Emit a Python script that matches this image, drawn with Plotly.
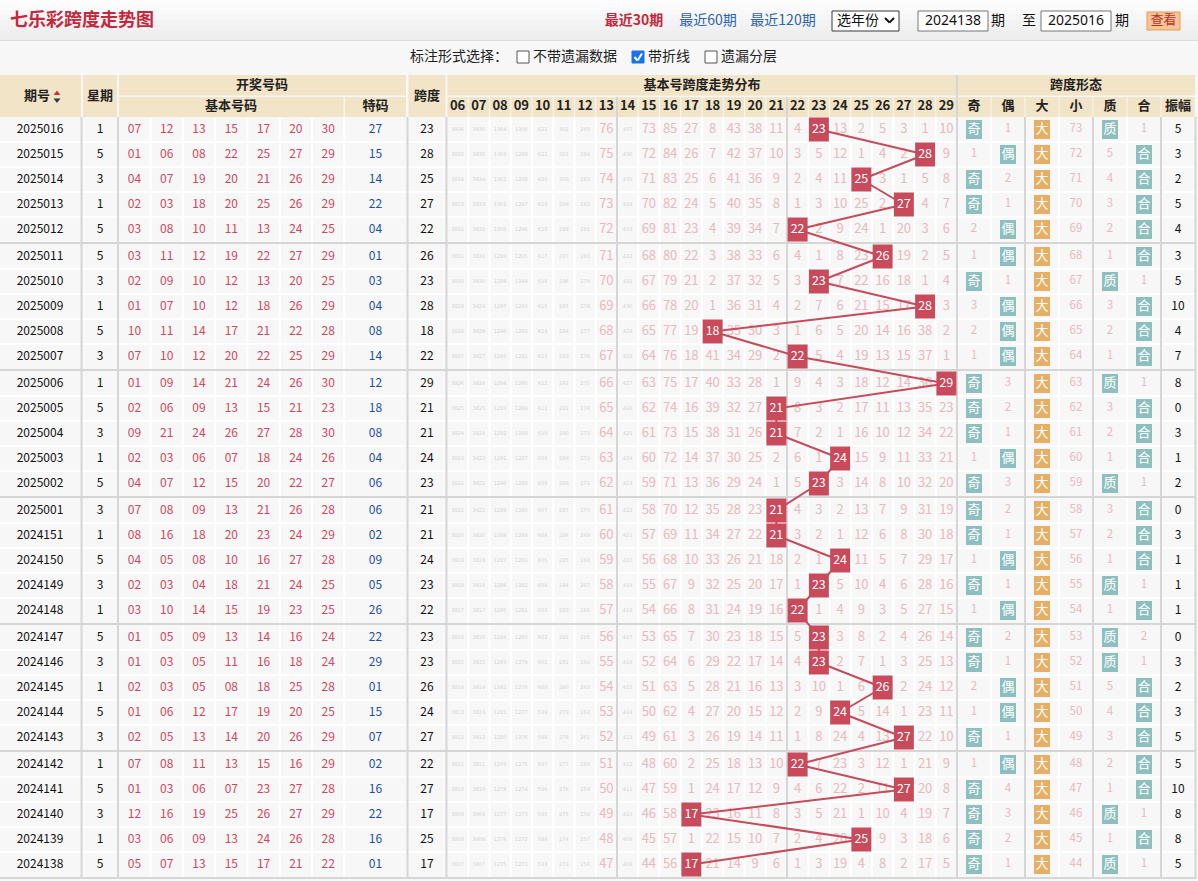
import plotly.graph_objects as go

# ---------------- data ----------------
periods = ["2025016", "2025015", "2025014", "2025013", "2025012",
           "2025011", "2025010", "2025009", "2025008", "2025007",
           "2025006", "2025005", "2025004", "2025003", "2025002",
           "2025001", "2024151", "2024150", "2024149", "2024148",
           "2024147", "2024146", "2024145", "2024144", "2024143",
           "2024142", "2024141", "2024140", "2024139", "2024138"]
weekdays = [1, 5, 3, 1, 5, 5, 3, 1, 5, 3, 1, 5, 3, 1, 5,
            3, 1, 5, 3, 1, 5, 3, 1, 5, 3, 1, 5, 3, 1, 5]
basic_numbers = [
    "07 12 13 15 17 20 30", "01 06 08 22 25 27 29", "04 07 19 20 21 26 29",
    "02 03 18 20 25 26 29", "03 08 10 11 13 24 25", "03 11 12 19 22 27 29",
    "02 09 10 12 13 20 25", "01 07 10 12 18 26 29", "10 11 14 17 21 22 28",
    "07 10 12 20 22 25 29", "01 09 14 21 24 26 30", "02 06 09 13 15 21 23",
    "09 21 24 26 27 28 30", "02 03 06 07 18 24 26", "04 07 12 15 20 22 27",
    "07 08 09 13 21 26 28", "08 16 18 20 23 24 29", "04 05 08 10 16 27 28",
    "02 03 04 18 21 24 25", "03 10 14 15 19 23 25", "01 05 09 13 14 16 24",
    "01 03 05 11 16 18 24", "02 03 05 08 18 25 28", "01 06 12 17 19 20 25",
    "02 05 13 14 20 26 29", "07 08 11 13 15 16 29", "01 03 06 07 23 27 28",
    "12 16 19 25 26 27 29", "03 06 09 13 24 26 28", "05 07 13 15 17 21 22"]
special_numbers = ["27", "15", "14", "22", "04", "01", "03", "04", "08", "14",
                   "12", "18", "08", "04", "06", "06", "02", "09", "05", "26",
                   "22", "29", "01", "15", "07", "02", "16", "22", "16", "01"]
spans = [23, 28, 25, 27, 22, 26, 23, 28, 18, 22, 29, 21, 21, 24, 23,
         21, 21, 24, 23, 22, 23, 23, 26, 24, 27, 22, 27, 17, 25, 17]
span_columns = ["06", "07", "08", "09", "10", "11", "12", "13", "14", "15", "16", "17",
                "18", "19", "20", "21", "22", "23", "24", "25", "26", "27", "28", "29"]
# omission value per span column 06..29 ("-" = drawn span of that period)
omissions = [
    "3836 3836 1304 1300 622 302 285 76 437 73 85 27 8 43 38 11 4 - 13 2 5 3 1 10",
    "3835 3835 1303 1299 621 301 284 75 436 72 84 26 7 42 37 10 3 5 12 1 4 2 - 9",
    "3834 3834 1302 1298 620 300 283 74 435 71 83 25 6 41 36 9 2 4 11 - 3 1 5 8",
    "3833 3833 1301 1297 619 299 282 73 434 70 82 24 5 40 35 8 1 3 10 25 2 - 4 7",
    "3832 3832 1300 1296 618 298 281 72 433 69 81 23 4 39 34 7 - 2 9 24 1 20 3 6",
    "3831 3831 1299 1295 617 297 280 71 432 68 80 22 3 38 33 6 4 1 8 23 - 19 2 5",
    "3830 3830 1298 1294 616 296 279 70 431 67 79 21 2 37 32 5 3 - 7 22 16 18 1 4",
    "3829 3829 1297 1293 615 295 278 69 430 66 78 20 1 36 31 4 2 7 6 21 15 17 - 3",
    "3828 3828 1296 1292 614 294 277 68 429 65 77 19 - 35 30 3 1 6 5 20 14 16 38 2",
    "3827 3827 1295 1291 613 293 276 67 428 64 76 18 41 34 29 2 - 5 4 19 13 15 37 1",
    "3826 3826 1294 1290 612 292 275 66 427 63 75 17 40 33 28 1 9 4 3 18 12 14 36 -",
    "3825 3825 1293 1289 611 291 274 65 426 62 74 16 39 32 27 - 8 3 2 17 11 13 35 23",
    "3824 3824 1292 1288 610 290 273 64 425 61 73 15 38 31 26 - 7 2 1 16 10 12 34 22",
    "3823 3823 1291 1287 609 289 272 63 424 60 72 14 37 30 25 2 6 1 - 15 9 11 33 21",
    "3822 3822 1290 1286 608 288 271 62 423 59 71 13 36 29 24 1 5 - 3 14 8 10 32 20",
    "3821 3821 1289 1285 607 287 270 61 422 58 70 12 35 28 23 - 4 3 2 13 7 9 31 19",
    "3820 3820 1288 1284 606 286 269 60 421 57 69 11 34 27 22 - 3 2 1 12 6 8 30 18",
    "3819 3819 1287 1283 605 285 268 59 420 56 68 10 33 26 21 18 2 1 - 11 5 7 29 17",
    "3818 3818 1286 1282 604 284 267 58 419 55 67 9 32 25 20 17 1 - 5 10 4 6 28 16",
    "3817 3817 1285 1281 603 283 266 57 418 54 66 8 31 24 19 16 - 1 4 9 3 5 27 15",
    "3816 3816 1284 1280 602 282 265 56 417 53 65 7 30 23 18 15 5 - 3 8 2 4 26 14",
    "3815 3815 1283 1279 601 281 264 55 416 52 64 6 29 22 17 14 4 - 2 7 1 3 25 13",
    "3814 3814 1282 1278 600 280 263 54 415 51 63 5 28 21 16 13 3 10 1 6 - 2 24 12",
    "3813 3813 1281 1277 599 279 262 53 414 50 62 4 27 20 15 12 2 9 - 5 14 1 23 11",
    "3812 3812 1280 1276 598 278 261 52 413 49 61 3 26 19 14 11 1 8 24 4 13 - 22 10",
    "3811 3811 1279 1275 597 277 260 51 412 48 60 2 25 18 13 10 - 7 23 3 12 1 21 9",
    "3810 3810 1278 1274 596 276 259 50 411 47 59 1 24 17 12 9 4 6 22 2 11 - 20 8",
    "3809 3809 1277 1273 595 275 258 49 410 46 58 - 23 16 11 8 3 5 21 1 10 4 19 7",
    "3808 3808 1276 1272 594 274 257 48 409 45 57 1 22 15 10 7 2 4 20 - 9 3 18 6",
    "3807 3807 1275 1271 593 273 256 47 408 44 56 - 21 14 9 6 1 3 19 4 8 2 17 5"]
form_headers = ["奇", "偶", "大", "小", "质", "合", "振幅"]
odd_col = ["奇", "1", "奇", "奇", "2", "1", "奇", "3", "2", "1", "奇", "奇", "奇", "1", "奇",
           "奇", "奇", "1", "奇", "1", "奇", "奇", "2", "1", "奇", "1", "奇", "奇", "奇", "奇"]
even_col = ["1", "偶", "2", "1", "偶", "偶", "1", "偶", "偶", "偶", "3", "2", "1", "偶", "3",
            "2", "1", "偶", "1", "偶", "2", "1", "偶", "偶", "1", "偶", "4", "3", "2", "1"]
big_col = ["大"] * 30
small_col = ["73", "72", "71", "70", "69", "68", "67", "66", "65", "64", "63", "62", "61", "60", "59",
             "58", "57", "56", "55", "54", "53", "52", "51", "50", "49", "48", "47", "46", "45", "44"]
prime_col = ["质", "5", "4", "3", "2", "1", "质", "3", "2", "1", "质", "3", "2", "1", "质",
             "3", "2", "1", "质", "1", "质", "质", "5", "4", "3", "2", "1", "质", "1", "质"]
comp_col = ["1", "合", "合", "合", "合", "合", "1", "合", "合", "合", "1", "合", "合", "合", "1",
            "合", "合", "合", "1", "合", "2", "1", "合", "合", "合", "合", "合", "1", "合", "1"]
amplitude = [5, 3, 2, 5, 4, 3, 5, 10, 4, 7, 8, 0, 3, 1, 2, 0, 3, 1, 1, 1, 0, 3, 2, 3, 5, 5, 10, 8, 8, 5]

# ---------------- layout helpers ----------------
W, H = 1198, 881
CN = "Noto Sans CJK SC"
NUM = "Noto Sans CJK SC"
BEIGE = "#f2e4c6"
GRAY = "#d6d6d6"
RED = "#c84a5b"
PINK = "#e8b9bd"
TEAL = "#8ebfbf"
ORANGE = "#e5b065"
TS = 12  # table number size

BODY_TOP, ROW_H, GROUP_STEP = 117, 25, 127
TREND_L, TREND_R = 447, 957


def row_top(i):
    return BODY_TOP + (i // 5) * GROUP_STEP + (i % 5) * ROW_H


def row_mid(i):
    return row_top(i) + ROW_H / 2


n = len(periods)
ys = [row_mid(i) for i in range(n)]
base_w = (344.3 - 118.3) / 7
base_x = [118.3 + base_w * (k + 0.5) for k in range(7)]
form_edges = [957, 991, 1025, 1059, 1093, 1127, 1161, 1195]
form_x = [(form_edges[k] + form_edges[k + 1]) / 2 for k in range(7)]
col_vals = [int(c) for c in span_columns]

traces = []
shapes = []


def text(xs, ys_, txt, color, size, family=NUM, axis="x", pos="middle center"):
    traces.append(go.Scatter(x=xs, y=ys_, text=txt, mode="text", textposition=pos,
                             textfont=dict(color=color, size=size, family=family),
                             xaxis=axis, yaxis="y", hoverinfo="skip", showlegend=False,
                             cliponaxis=False))


def segments(segs, color, width):
    xs, yy = [], []
    for x0, y0, x1, y1 in segs:
        xs += [x0, x1, None]
        yy += [y0, y1, None]
    traces.append(go.Scatter(x=xs, y=yy, mode="lines", line=dict(color=color, width=width),
                             hoverinfo="skip", showlegend=False, cliponaxis=False))


def rect(x0, y0, x1, y1, fill, line=None, lw=1):
    shapes.append(dict(type="rect", xref="x", yref="y", x0=x0, y0=y0, x1=x1, y1=y1,
                       fillcolor=fill, line=dict(color=line or fill, width=lw if line else 0),
                       layer="below"))


def boxes(cx, cy, hw, hh, color, axis="x"):
    xs, yy = [], []
    for x, y in zip(cx, cy):
        xs += [x - hw, x + hw, x + hw, x - hw, x - hw, None]
        yy += [y - hh, y - hh, y + hh, y + hh, y - hh, None]
    traces.append(go.Scatter(x=xs, y=yy, mode="lines", fill="toself", fillcolor=color,
                             line=dict(width=0, color=color), xaxis=axis, yaxis="y",
                             hoverinfo="skip", showlegend=False, cliponaxis=False))


# ---------------- top bar ----------------
bands = ["#fdfdfd", "#fbfbfb", "#f8f8f8", "#f6f6f6", "#f3f3f3", "#f1f1f1", "#efefef", "#ededed"]
for k, c in enumerate(bands):
    rect(0, k * 5, W, k * 5 + 5, c)
segments([(0, 40.5, W, 40.5)], "#dcdcdc", 1)
text([10], [21], ["<b>七乐彩跨度走势图</b>"], "#c5283c", 18, CN, pos="middle right")
text([634], [21], ["<b>最近30期</b>"], "#c5283c", 14, CN)
text([708], [21], ["最近60期"], "#2d62b5", 14, CN)
text([783], [21], ["最近120期"], "#2d62b5", 14, CN)
rect(832, 11, 899, 31, "#ffffff", "#3a3a3a", 1)
text([858], [21], ["选年份"], "#111111", 14, CN)
segments([(885, 18, 889.5, 22.5), (889.5, 22.5, 894, 18)], "#111111", 2)
rect(918, 11, 988, 31, "#ffffff", "#767676", 1)
text([953], [21], ["2024138"], "#111111", 14, "Noto Sans")
text([998], [21], ["期"], "#111111", 14, CN)
text([1029], [21], ["至"], "#111111", 14, CN)
rect(1041, 11, 1111, 31, "#ffffff", "#767676", 1)
text([1076], [21], ["2025016"], "#111111", 14, "Noto Sans")
text([1122], [21], ["期"], "#111111", 14, CN)
rect(1147, 12, 1180, 30, "#f9c597", "#e89a5a", 1)
text([1163.5], [21], ["查看"], "#b8322a", 13, CN)

# option line
text([410], [57], ["标注形式选择："], "#222222", 14, CN, pos="middle right")
rect(517, 51, 529, 63, "#ffffff", "#555555", 1)
text([533], [57], ["不带遗漏数据"], "#222222", 14, CN, pos="middle right")
rect(632, 51, 644, 63, "#1a73e8", "#1a73e8", 1)
segments([(634.5, 57, 637.5, 60.5), (637.5, 60.5, 642, 53.5)], "#ffffff", 2)
text([648], [57], ["带折线"], "#222222", 14, CN, pos="middle right")
rect(705, 51, 717, 63, "#ffffff", "#555555", 1)
text([721], [57], ["遗漏分层"], "#222222", 14, CN, pos="middle right")

# ---------------- header ----------------
HB = "#222222"
rect(0, 75, 81, 117, BEIGE)
rect(83, 75, 117, 117, BEIGE)
rect(119, 75, 406, 95.5, BEIGE)
rect(119, 97, 343.5, 117, BEIGE)
rect(345, 97, 406, 117, BEIGE)
rect(408.5, 75, 445.5, 117, BEIGE)
rect(447.5, 75, 956, 95.5, BEIGE)
rect(958, 75, 1195, 95.5, BEIGE)
for k in range(24):
    x0 = TREND_L + k * (TREND_R - TREND_L) / 24
    rect(x0 + 0.5, 97, x0 + (TREND_R - TREND_L) / 24 - 0.5, 117, BEIGE)
for k in range(7):
    rect(form_edges[k] + 0.5, 97, form_edges[k + 1] - 0.5, 117, BEIGE)

text([37], [97], ["<b>期号</b>"], HB, 13, CN)
traces.append(go.Scatter(x=[57, 57], y=[93.5, 100], mode="markers",
                         marker=dict(symbol=["triangle-up", "triangle-down"], size=6,
                                     color=["#d0303a", "#33334a"]),
                         hoverinfo="skip", showlegend=False, cliponaxis=False))
text([100], [97], ["<b>星期</b>"], HB, 13, CN)
text([262], [86], ["<b>开奖号码</b>"], HB, 13, CN)
text([231], [107], ["<b>基本号码</b>"], HB, 13, CN)
text([375.5], [107], ["<b>特码</b>"], HB, 13, CN)
text([427], [97], ["<b>跨度</b>"], HB, 13, CN)
text([702], [86], ["<b>基本号跨度走势分布</b>"], HB, 13, CN)
text([1076], [86], ["<b>跨度形态</b>"], HB, 13, CN)
text(col_vals, [107] * 24, ["<b>%s</b>" % c for c in span_columns], HB, 13, CN, axis="x2")
text(form_x, [107] * 7, ["<b>%s</b>" % c for c in form_headers], HB, 13, CN)

# ---------------- body grid ----------------
white_v = [344.3] + [118.3 + base_w * k for k in range(1, 7)]
step = (TREND_R - TREND_L) / 24
white_v += [TREND_L + k * step for k in range(1, 24) if k % 8]
white_v += [991, 1059, 1127]
segs = [(x, BODY_TOP, x, 878) for x in white_v]
for i in range(n):
    if i % 5:
        segs.append((0, row_top(i), 1195, row_top(i)))
segments(segs, "#ffffff", 2)
gray_v = [81.5, 118, 407.5, 446.5, 617, 787, 957, 1025, 1093, 1161, 1195.5]
gsegs = [(x, BODY_TOP, x, 878) for x in gray_v]
gsegs += [(787, 97, 787, 117), (617, 97, 617, 117), (957, 75, 957, 117)]
for g in range(1, 7):
    y = BODY_TOP + g * GROUP_STEP - 1
    gsegs.append((0, y, 1196, y))
segments(gsegs, GRAY, 2)

# ---------------- body texts ----------------
text([40] * n, ys, periods, "#111111", TS)
text([100] * n, ys, [str(w) for w in weekdays], "#111111", TS)
bx, by, bt = [], [], []
for i, row in enumerate(basic_numbers):
    for k, num in enumerate(row.split()):
        bx.append(base_x[k])
        by.append(ys[i])
        bt.append(num)
text(bx, by, bt, "#d0485c", TS)
text([375.5] * n, ys, special_numbers, "#1d4fa6", TS)
text([427] * n, ys, [str(s) for s in spans], "#111111", TS)

# omissions in the trend area (drawn on the span axis)
px_, py_, pt_ = [], [], []
tx_, ty_, tt_ = [], [], []
for i, row in enumerate(omissions):
    for v, val in zip(col_vals, row.split()):
        if val == "-":
            continue
        if v <= 12 or v == 14:
            tx_.append(v)
            ty_.append(ys[i])
            tt_.append(val)
        else:
            px_.append(v)
            py_.append(ys[i])
            pt_.append(val)
text(tx_, ty_, tt_, "#d4d4d4", 5, "DejaVu Sans", axis="x2")
text(px_, py_, pt_, PINK, 13, axis="x2")

# trend line + span boxes
traces.append(go.Scatter(x=spans, y=ys, mode="lines", line=dict(color=RED, width=2),
                         xaxis="x2", yaxis="y", hoverinfo="skip", showlegend=False,
                         cliponaxis=False))
boxes(spans, ys, 0.47, 12, RED, axis="x2")
text(spans, ys, [str(s) for s in spans], "#ffffff", 12.5, axis="x2")

# span form columns
form_cols = [odd_col, even_col, big_col, small_col, prime_col, comp_col]
teal_x, teal_y, or_x, or_y = [], [], [], []
badge_x, badge_y, badge_t = [], [], []
pk_x, pk_y, pk_t = [], [], []
for k, col in enumerate(form_cols):
    for i, val in enumerate(col):
        if val.isdigit():
            pk_x.append(form_x[k])
            pk_y.append(ys[i])
            pk_t.append(val)
        else:
            if val == "大":
                or_x.append(form_x[k])
                or_y.append(ys[i])
            else:
                teal_x.append(form_x[k])
                teal_y.append(ys[i])
            badge_x.append(form_x[k])
            badge_y.append(ys[i])
            badge_t.append(val)
boxes(teal_x, teal_y, 8, 9.5, TEAL)
boxes(or_x, or_y, 8, 9.5, ORANGE)
text(badge_x, badge_y, badge_t, "#ffffff", 13, CN)
text(pk_x, pk_y, pk_t, PINK, 11.5)
text([form_x[6]] * n, ys, [str(a) for a in amplitude], "#111111", TS)

# ---------------- figure ----------------
fig = go.Figure(traces)
fig.update_layout(
    width=W, height=H, margin=dict(l=0, r=0, t=0, b=0, pad=0),
    paper_bgcolor="#f7f7f7", plot_bgcolor="rgba(0,0,0,0)",
    shapes=shapes, showlegend=False,
    xaxis=dict(range=[0, W], visible=False, domain=[0, 1], fixedrange=True),
    xaxis2=dict(range=[5.5, 29.5], visible=False, anchor="y",
                domain=[TREND_L / W, TREND_R / W], fixedrange=True),
    yaxis=dict(range=[H, 0], visible=False, domain=[0, 1], fixedrange=True),
)
# the page body has an 8px default margin; drop it so the figure fills the window
fig.write_html("out.html", config={"displayModeBar": False},
               post_script="document.body.style.margin='0';document.body.style.overflow='hidden';")
